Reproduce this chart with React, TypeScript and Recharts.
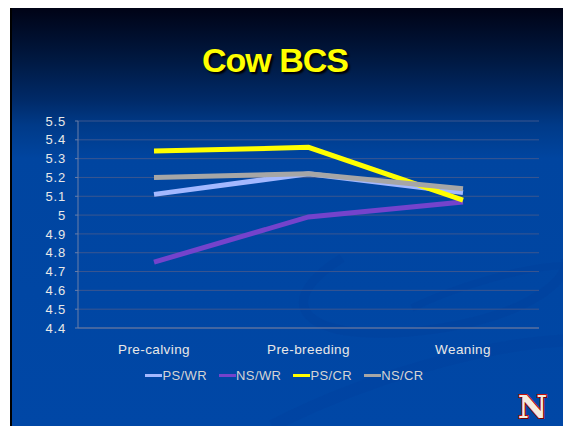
import React from "react"
import { LineChart, Line, XAxis, YAxis, CartesianGrid, Legend } from "recharts"

const stages = ["Pre-calving", "Pre-breeding", "Weaning"]
const psWr = [5.11, 5.22, 5.12]
const nsWr = [4.75, 4.99, 5.07]
const psCr = [5.34, 5.36, 5.08]
const nsCr = [5.2, 5.22, 5.14]
const yTicks = [4.4, 4.5, 4.6, 4.7, 4.8, 4.9, 5, 5.1, 5.2, 5.3, 5.4, 5.5]

const seriesInfo = [
  { key: "PS/WR", color: "#a3b8ff" },
  { key: "NS/WR", color: "#7443cc" },
  { key: "PS/CR", color: "#ffff00" },
  { key: "NS/CR", color: "#a6a6a6" },
]

const data = stages.map((stage, i) => ({
  stage,
  "PS/WR": psWr[i],
  "NS/WR": nsWr[i],
  "PS/CR": psCr[i],
  "NS/CR": nsCr[i],
}))

const font = "'Liberation Sans', Arial, sans-serif"

function LegendRow() {
  return (
    <div style={{ display: "flex", justifyContent: "center", fontFamily: font, fontSize: 13, color: "#d4d4d4", letterSpacing: 0.4 }}>
      {seriesInfo.map((s) => (
        <div key={s.key} style={{ display: "flex", alignItems: "center", marginRight: 12 }}>
          <span style={{ display: "inline-block", width: 17, height: 3, background: s.color }} />
          <span>{s.key}</span>
        </div>
      ))}
    </div>
  )
}

export default function App() {
  return (
    <div
      style={{
        position: "fixed",
        left: 10,
        top: 8,
        width: 553,
        height: 418,
        overflow: "hidden",
        borderLeft: "2px solid #000",
        boxSizing: "border-box",
        background: "linear-gradient(to bottom, #000316 0%, #001840 12%, #002a68 22%, #003a88 28%, #0045a0 36%, #0047a6 100%)",
      }}
    >
      {/* faint swooshes behind the plot */}
      <svg width={553} height={418} style={{ position: "absolute", left: 0, top: 0 }}>
        <path d="M330 250 C 250 300, 300 340, 430 320 C 520 305, 560 270, 553 250" fill="none" stroke="#003f9c" strokeWidth={9} opacity={0.35} />
        <path d="M400 300 C 440 280, 520 255, 560 258" fill="none" stroke="#003f9c" strokeWidth={7} opacity={0.35} />
        <path d="M260 418 C 350 372, 470 335, 560 332" fill="none" stroke="#003f9c" strokeWidth={12} opacity={0.3} />
      </svg>
      <div
        style={{
          position: "absolute",
          left: 0,
          top: 33,
          width: 526,
          textAlign: "center",
          fontFamily: font,
          fontWeight: "bold",
          fontSize: 34,
          letterSpacing: -1,
          color: "#ffff00",
          textShadow: "2px 2px 2px #000",
        }}
      >
        Cow BCS
      </div>
      <LineChart width={551} height={418} data={data} margin={{ top: 113, right: 24, left: 0, bottom: 68 }} style={{ position: "absolute", left: 0, top: 0 }}>
        <CartesianGrid vertical={false} stroke="#3a5690" />
        <XAxis
          dataKey="stage"
          padding={{ left: 76, right: 76 }}
          stroke="#6a7ea8"
          tickSize={0}
          tickMargin={16}
          tick={{ fill: "#e8e8e8", fontSize: 13.5, fontFamily: font, letterSpacing: 0.4 }}
        />
        <YAxis
          width={66}
          domain={[4.4, 5.5]}
          ticks={yTicks}
          interval={0}
          stroke="#6a7ea8"
          tickSize={3}
          tickMargin={9}
          tick={{ fill: "#e8e8e8", fontSize: 13, fontFamily: font, letterSpacing: 0.8 }}
        />
        <Legend verticalAlign="middle" content={() => <LegendRow />} wrapperStyle={{ top: 360, left: 6, width: 545 }} />
        {seriesInfo.map((s) => (
          <Line key={s.key} type="linear" dataKey={s.key} stroke={s.color} strokeWidth={5} dot={false} isAnimationActive={false} />
        ))}
      </LineChart>
      <div
        style={{
          position: "absolute",
          left: 506,
          top: 380,
          fontFamily: "'DejaVu Serif', serif",
          fontWeight: "bold",
          fontSize: 32,
          color: "#f4ece0",
          WebkitTextStroke: "2px #c4120c",
          paintOrder: "stroke fill",
          textShadow: "1px 1px 0 #700",
        }}
      >
        N
      </div>
    </div>
  )
}
